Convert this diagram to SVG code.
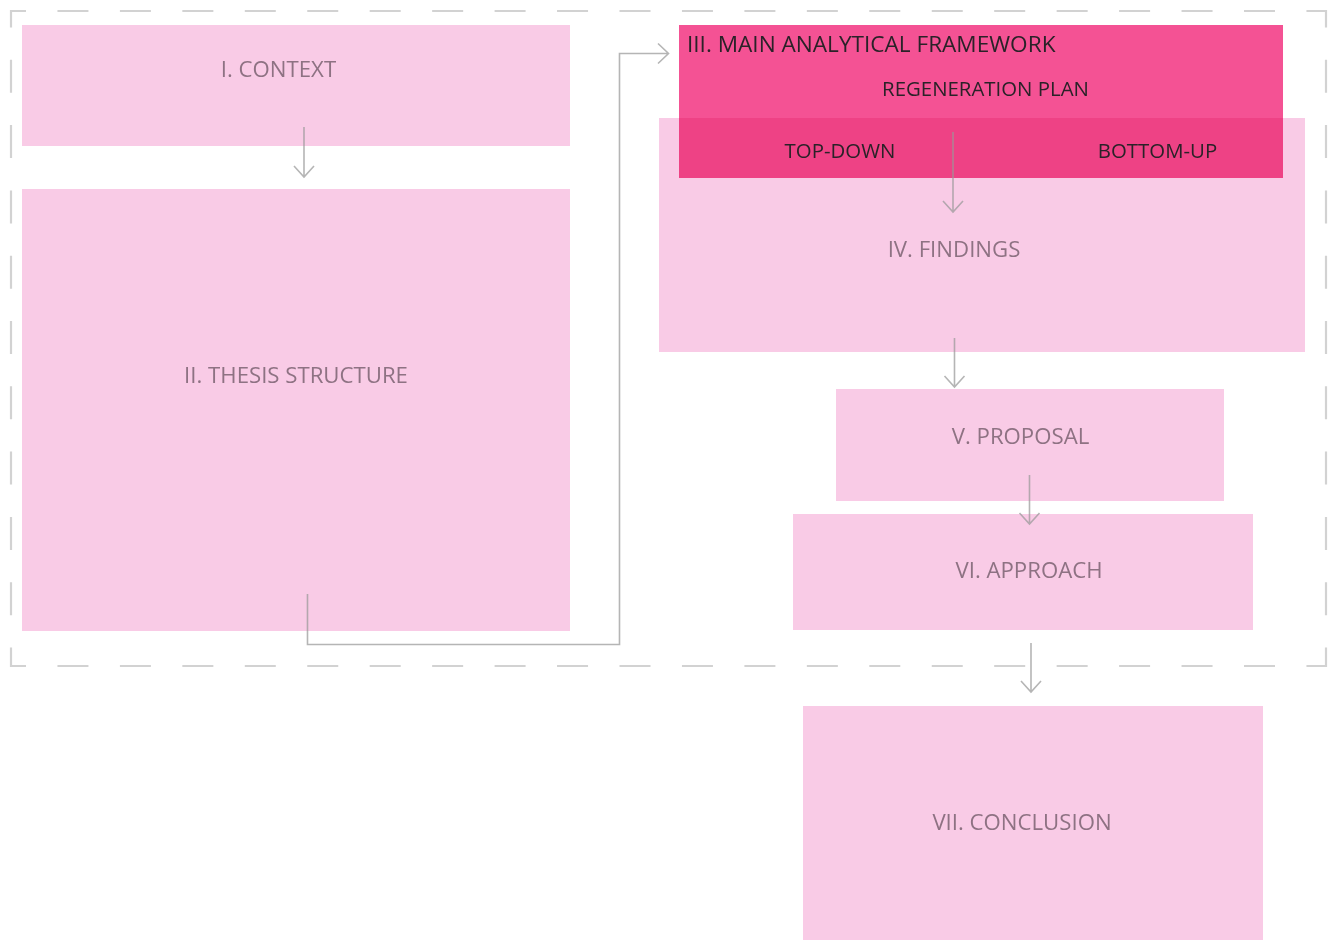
<svg xmlns="http://www.w3.org/2000/svg" width="1338" height="940" viewBox="0 0 1338 940">
  <defs>
    <style>
      .box { fill: #f9cbe6; }
      .frame { fill: #f45294; mix-blend-mode: multiply; }
      .lbl { font-family: "Open Sans", "Liberation Sans", sans-serif; font-size: 22.2px; fill: #8e7283; text-anchor: middle; }
      .lbl-dark { font-family: "Open Sans", "Liberation Sans", sans-serif; font-size: 22.6px; fill: #2a2228; }
      .sub { font-size: 20.4px; text-anchor: middle; }
      .edge { fill: none; stroke: #999999; stroke-opacity: 0.72; stroke-width: 1.6; }
      .bound-h { stroke: #d2d2d2; stroke-width: 2.2; stroke-dasharray: 31 31.45; stroke-dashoffset: 15; }
      .bound-v { stroke: #d2d2d2; stroke-width: 2.2; stroke-dasharray: 33 32.3; stroke-dashoffset: 15.5; }
    </style>
  </defs>
  <rect width="1338" height="940" fill="#ffffff"/>

  <!-- dashed boundary around the study stages -->
  <g id="boundary">
    <line class="bound-h" x1="10" y1="11" x2="1327" y2="11"/>
    <line class="bound-h" x1="10" y1="666" x2="1327" y2="666"/>
    <line class="bound-v" x1="11" y1="10" x2="11" y2="667"/>
    <line class="bound-v" x1="1326" y1="10" x2="1326" y2="667"/>
  </g>

  <g id="context">
    <rect class="box" x="22" y="25" width="548" height="121"/>
    <text class="lbl" x="278.5" y="77">I. CONTEXT</text>
  </g>

  <g id="thesis-structure">
    <rect class="box" x="22" y="189" width="548" height="442"/>
    <text class="lbl" x="296" y="383">II. THESIS STRUCTURE</text>
  </g>

  <g id="findings">
    <rect class="box" x="659" y="118" width="646" height="234"/>
    <text class="lbl" x="954" y="257">IV. FINDINGS</text>
  </g>

  <g id="framework">
    <rect class="frame" x="679" y="25" width="604" height="153"/>
    <text class="lbl-dark" x="687" y="52">III. MAIN ANALYTICAL FRAMEWORK</text>
    <text class="lbl-dark sub" x="985.5" y="96">REGENERATION PLAN</text>
    <text class="lbl-dark sub" x="840" y="158">TOP-DOWN</text>
    <text class="lbl-dark sub" x="1157.5" y="158">BOTTOM-UP</text>
  </g>

  <g id="proposal">
    <rect class="box" x="836" y="389" width="388" height="112"/>
    <text class="lbl" x="1020.5" y="444">V. PROPOSAL</text>
  </g>

  <g id="approach">
    <rect class="box" x="793" y="514" width="460" height="116"/>
    <text class="lbl" x="1029" y="578">VI. APPROACH</text>
  </g>

  <g id="conclusion">
    <rect class="box" x="803" y="706" width="460" height="234"/>
    <text class="lbl" x="1022" y="830">VII. CONCLUSION</text>
  </g>

  <!-- connectors: open chevron heads drawn as part of each path -->
  <g id="connectors">
    <path class="edge" d="M304 127 V177 M294 166 L304 177 L314 166"/>
    <path class="edge" d="M307.5 594 V644.5 H619.5 V53.5 H668 M658 43.5 L668.5 53.5 L658 63.5"/>
    <path class="edge" d="M953 132 V212 M943 201 L953 212 L963 201"/>
    <path class="edge" d="M954.5 338 V387 M944.5 376 L954.5 387 L964.5 376"/>
    <path class="edge" d="M1029.5 475 V524 M1019.5 513 L1029.5 524 L1039.5 513"/>
    <path class="edge" d="M1031 643 V692 M1021 681 L1031 692 L1041 681"/>
  </g>
</svg>
